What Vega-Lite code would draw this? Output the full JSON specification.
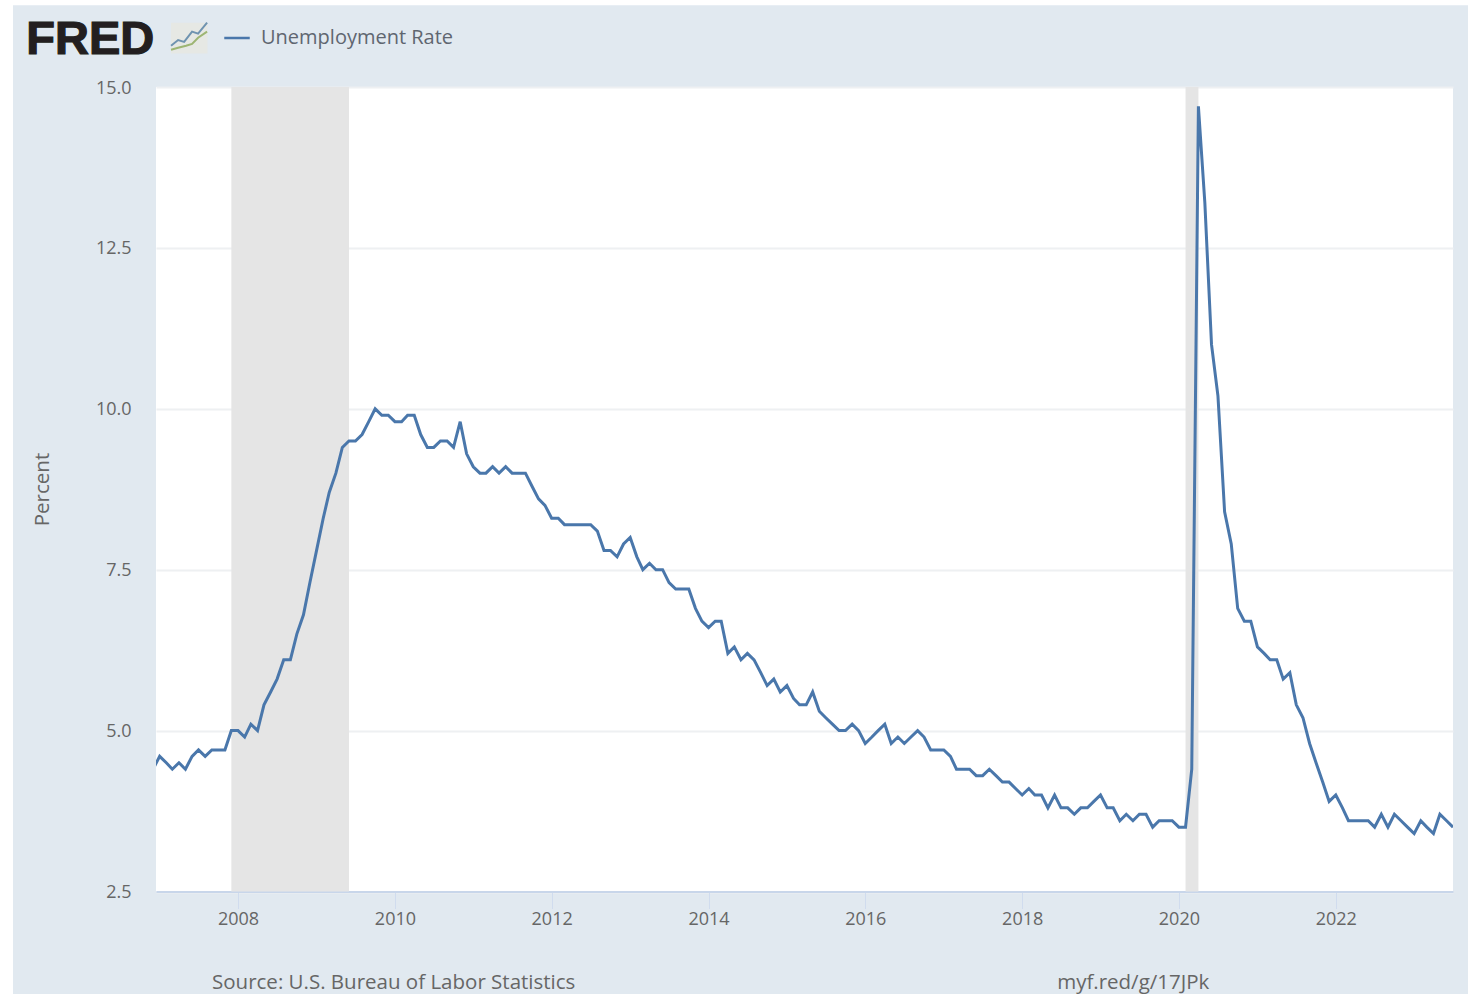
{"$schema":"https://vega.github.io/schema/vega-lite/v6.json","width":1297,"height":804.5,"autosize":{"type":"none"},"padding":{"left":156,"top":87,"right":15,"bottom":102.5},"background":"#e1e9f0","view":{"fill":"#ffffff","stroke":null},"config":{"font":"Open Sans"},"datasets":{"rate":[{"date":"2006-12-01","rate":4.4,"series":"Unemployment Rate"},{"date":"2007-01-01","rate":4.6,"series":"Unemployment Rate"},{"date":"2007-02-01","rate":4.5,"series":"Unemployment Rate"},{"date":"2007-03-01","rate":4.4,"series":"Unemployment Rate"},{"date":"2007-04-01","rate":4.5,"series":"Unemployment Rate"},{"date":"2007-05-01","rate":4.4,"series":"Unemployment Rate"},{"date":"2007-06-01","rate":4.6,"series":"Unemployment Rate"},{"date":"2007-07-01","rate":4.7,"series":"Unemployment Rate"},{"date":"2007-08-01","rate":4.6,"series":"Unemployment Rate"},{"date":"2007-09-01","rate":4.7,"series":"Unemployment Rate"},{"date":"2007-10-01","rate":4.7,"series":"Unemployment Rate"},{"date":"2007-11-01","rate":4.7,"series":"Unemployment Rate"},{"date":"2007-12-01","rate":5.0,"series":"Unemployment Rate"},{"date":"2008-01-01","rate":5.0,"series":"Unemployment Rate"},{"date":"2008-02-01","rate":4.9,"series":"Unemployment Rate"},{"date":"2008-03-01","rate":5.1,"series":"Unemployment Rate"},{"date":"2008-04-01","rate":5.0,"series":"Unemployment Rate"},{"date":"2008-05-01","rate":5.4,"series":"Unemployment Rate"},{"date":"2008-06-01","rate":5.6,"series":"Unemployment Rate"},{"date":"2008-07-01","rate":5.8,"series":"Unemployment Rate"},{"date":"2008-08-01","rate":6.1,"series":"Unemployment Rate"},{"date":"2008-09-01","rate":6.1,"series":"Unemployment Rate"},{"date":"2008-10-01","rate":6.5,"series":"Unemployment Rate"},{"date":"2008-11-01","rate":6.8,"series":"Unemployment Rate"},{"date":"2008-12-01","rate":7.3,"series":"Unemployment Rate"},{"date":"2009-01-01","rate":7.8,"series":"Unemployment Rate"},{"date":"2009-02-01","rate":8.3,"series":"Unemployment Rate"},{"date":"2009-03-01","rate":8.7,"series":"Unemployment Rate"},{"date":"2009-04-01","rate":9.0,"series":"Unemployment Rate"},{"date":"2009-05-01","rate":9.4,"series":"Unemployment Rate"},{"date":"2009-06-01","rate":9.5,"series":"Unemployment Rate"},{"date":"2009-07-01","rate":9.5,"series":"Unemployment Rate"},{"date":"2009-08-01","rate":9.6,"series":"Unemployment Rate"},{"date":"2009-09-01","rate":9.8,"series":"Unemployment Rate"},{"date":"2009-10-01","rate":10.0,"series":"Unemployment Rate"},{"date":"2009-11-01","rate":9.9,"series":"Unemployment Rate"},{"date":"2009-12-01","rate":9.9,"series":"Unemployment Rate"},{"date":"2010-01-01","rate":9.8,"series":"Unemployment Rate"},{"date":"2010-02-01","rate":9.8,"series":"Unemployment Rate"},{"date":"2010-03-01","rate":9.9,"series":"Unemployment Rate"},{"date":"2010-04-01","rate":9.9,"series":"Unemployment Rate"},{"date":"2010-05-01","rate":9.6,"series":"Unemployment Rate"},{"date":"2010-06-01","rate":9.4,"series":"Unemployment Rate"},{"date":"2010-07-01","rate":9.4,"series":"Unemployment Rate"},{"date":"2010-08-01","rate":9.5,"series":"Unemployment Rate"},{"date":"2010-09-01","rate":9.5,"series":"Unemployment Rate"},{"date":"2010-10-01","rate":9.4,"series":"Unemployment Rate"},{"date":"2010-11-01","rate":9.8,"series":"Unemployment Rate"},{"date":"2010-12-01","rate":9.3,"series":"Unemployment Rate"},{"date":"2011-01-01","rate":9.1,"series":"Unemployment Rate"},{"date":"2011-02-01","rate":9.0,"series":"Unemployment Rate"},{"date":"2011-03-01","rate":9.0,"series":"Unemployment Rate"},{"date":"2011-04-01","rate":9.1,"series":"Unemployment Rate"},{"date":"2011-05-01","rate":9.0,"series":"Unemployment Rate"},{"date":"2011-06-01","rate":9.1,"series":"Unemployment Rate"},{"date":"2011-07-01","rate":9.0,"series":"Unemployment Rate"},{"date":"2011-08-01","rate":9.0,"series":"Unemployment Rate"},{"date":"2011-09-01","rate":9.0,"series":"Unemployment Rate"},{"date":"2011-10-01","rate":8.8,"series":"Unemployment Rate"},{"date":"2011-11-01","rate":8.6,"series":"Unemployment Rate"},{"date":"2011-12-01","rate":8.5,"series":"Unemployment Rate"},{"date":"2012-01-01","rate":8.3,"series":"Unemployment Rate"},{"date":"2012-02-01","rate":8.3,"series":"Unemployment Rate"},{"date":"2012-03-01","rate":8.2,"series":"Unemployment Rate"},{"date":"2012-04-01","rate":8.2,"series":"Unemployment Rate"},{"date":"2012-05-01","rate":8.2,"series":"Unemployment Rate"},{"date":"2012-06-01","rate":8.2,"series":"Unemployment Rate"},{"date":"2012-07-01","rate":8.2,"series":"Unemployment Rate"},{"date":"2012-08-01","rate":8.1,"series":"Unemployment Rate"},{"date":"2012-09-01","rate":7.8,"series":"Unemployment Rate"},{"date":"2012-10-01","rate":7.8,"series":"Unemployment Rate"},{"date":"2012-11-01","rate":7.7,"series":"Unemployment Rate"},{"date":"2012-12-01","rate":7.9,"series":"Unemployment Rate"},{"date":"2013-01-01","rate":8.0,"series":"Unemployment Rate"},{"date":"2013-02-01","rate":7.7,"series":"Unemployment Rate"},{"date":"2013-03-01","rate":7.5,"series":"Unemployment Rate"},{"date":"2013-04-01","rate":7.6,"series":"Unemployment Rate"},{"date":"2013-05-01","rate":7.5,"series":"Unemployment Rate"},{"date":"2013-06-01","rate":7.5,"series":"Unemployment Rate"},{"date":"2013-07-01","rate":7.3,"series":"Unemployment Rate"},{"date":"2013-08-01","rate":7.2,"series":"Unemployment Rate"},{"date":"2013-09-01","rate":7.2,"series":"Unemployment Rate"},{"date":"2013-10-01","rate":7.2,"series":"Unemployment Rate"},{"date":"2013-11-01","rate":6.9,"series":"Unemployment Rate"},{"date":"2013-12-01","rate":6.7,"series":"Unemployment Rate"},{"date":"2014-01-01","rate":6.6,"series":"Unemployment Rate"},{"date":"2014-02-01","rate":6.7,"series":"Unemployment Rate"},{"date":"2014-03-01","rate":6.7,"series":"Unemployment Rate"},{"date":"2014-04-01","rate":6.2,"series":"Unemployment Rate"},{"date":"2014-05-01","rate":6.3,"series":"Unemployment Rate"},{"date":"2014-06-01","rate":6.1,"series":"Unemployment Rate"},{"date":"2014-07-01","rate":6.2,"series":"Unemployment Rate"},{"date":"2014-08-01","rate":6.1,"series":"Unemployment Rate"},{"date":"2014-09-01","rate":5.9,"series":"Unemployment Rate"},{"date":"2014-10-01","rate":5.7,"series":"Unemployment Rate"},{"date":"2014-11-01","rate":5.8,"series":"Unemployment Rate"},{"date":"2014-12-01","rate":5.6,"series":"Unemployment Rate"},{"date":"2015-01-01","rate":5.7,"series":"Unemployment Rate"},{"date":"2015-02-01","rate":5.5,"series":"Unemployment Rate"},{"date":"2015-03-01","rate":5.4,"series":"Unemployment Rate"},{"date":"2015-04-01","rate":5.4,"series":"Unemployment Rate"},{"date":"2015-05-01","rate":5.6,"series":"Unemployment Rate"},{"date":"2015-06-01","rate":5.3,"series":"Unemployment Rate"},{"date":"2015-07-01","rate":5.2,"series":"Unemployment Rate"},{"date":"2015-08-01","rate":5.1,"series":"Unemployment Rate"},{"date":"2015-09-01","rate":5.0,"series":"Unemployment Rate"},{"date":"2015-10-01","rate":5.0,"series":"Unemployment Rate"},{"date":"2015-11-01","rate":5.1,"series":"Unemployment Rate"},{"date":"2015-12-01","rate":5.0,"series":"Unemployment Rate"},{"date":"2016-01-01","rate":4.8,"series":"Unemployment Rate"},{"date":"2016-02-01","rate":4.9,"series":"Unemployment Rate"},{"date":"2016-03-01","rate":5.0,"series":"Unemployment Rate"},{"date":"2016-04-01","rate":5.1,"series":"Unemployment Rate"},{"date":"2016-05-01","rate":4.8,"series":"Unemployment Rate"},{"date":"2016-06-01","rate":4.9,"series":"Unemployment Rate"},{"date":"2016-07-01","rate":4.8,"series":"Unemployment Rate"},{"date":"2016-08-01","rate":4.9,"series":"Unemployment Rate"},{"date":"2016-09-01","rate":5.0,"series":"Unemployment Rate"},{"date":"2016-10-01","rate":4.9,"series":"Unemployment Rate"},{"date":"2016-11-01","rate":4.7,"series":"Unemployment Rate"},{"date":"2016-12-01","rate":4.7,"series":"Unemployment Rate"},{"date":"2017-01-01","rate":4.7,"series":"Unemployment Rate"},{"date":"2017-02-01","rate":4.6,"series":"Unemployment Rate"},{"date":"2017-03-01","rate":4.4,"series":"Unemployment Rate"},{"date":"2017-04-01","rate":4.4,"series":"Unemployment Rate"},{"date":"2017-05-01","rate":4.4,"series":"Unemployment Rate"},{"date":"2017-06-01","rate":4.3,"series":"Unemployment Rate"},{"date":"2017-07-01","rate":4.3,"series":"Unemployment Rate"},{"date":"2017-08-01","rate":4.4,"series":"Unemployment Rate"},{"date":"2017-09-01","rate":4.3,"series":"Unemployment Rate"},{"date":"2017-10-01","rate":4.2,"series":"Unemployment Rate"},{"date":"2017-11-01","rate":4.2,"series":"Unemployment Rate"},{"date":"2017-12-01","rate":4.1,"series":"Unemployment Rate"},{"date":"2018-01-01","rate":4.0,"series":"Unemployment Rate"},{"date":"2018-02-01","rate":4.1,"series":"Unemployment Rate"},{"date":"2018-03-01","rate":4.0,"series":"Unemployment Rate"},{"date":"2018-04-01","rate":4.0,"series":"Unemployment Rate"},{"date":"2018-05-01","rate":3.8,"series":"Unemployment Rate"},{"date":"2018-06-01","rate":4.0,"series":"Unemployment Rate"},{"date":"2018-07-01","rate":3.8,"series":"Unemployment Rate"},{"date":"2018-08-01","rate":3.8,"series":"Unemployment Rate"},{"date":"2018-09-01","rate":3.7,"series":"Unemployment Rate"},{"date":"2018-10-01","rate":3.8,"series":"Unemployment Rate"},{"date":"2018-11-01","rate":3.8,"series":"Unemployment Rate"},{"date":"2018-12-01","rate":3.9,"series":"Unemployment Rate"},{"date":"2019-01-01","rate":4.0,"series":"Unemployment Rate"},{"date":"2019-02-01","rate":3.8,"series":"Unemployment Rate"},{"date":"2019-03-01","rate":3.8,"series":"Unemployment Rate"},{"date":"2019-04-01","rate":3.6,"series":"Unemployment Rate"},{"date":"2019-05-01","rate":3.7,"series":"Unemployment Rate"},{"date":"2019-06-01","rate":3.6,"series":"Unemployment Rate"},{"date":"2019-07-01","rate":3.7,"series":"Unemployment Rate"},{"date":"2019-08-01","rate":3.7,"series":"Unemployment Rate"},{"date":"2019-09-01","rate":3.5,"series":"Unemployment Rate"},{"date":"2019-10-01","rate":3.6,"series":"Unemployment Rate"},{"date":"2019-11-01","rate":3.6,"series":"Unemployment Rate"},{"date":"2019-12-01","rate":3.6,"series":"Unemployment Rate"},{"date":"2020-01-01","rate":3.5,"series":"Unemployment Rate"},{"date":"2020-02-01","rate":3.5,"series":"Unemployment Rate"},{"date":"2020-03-01","rate":4.4,"series":"Unemployment Rate"},{"date":"2020-04-01","rate":14.7,"series":"Unemployment Rate"},{"date":"2020-05-01","rate":13.2,"series":"Unemployment Rate"},{"date":"2020-06-01","rate":11.0,"series":"Unemployment Rate"},{"date":"2020-07-01","rate":10.2,"series":"Unemployment Rate"},{"date":"2020-08-01","rate":8.4,"series":"Unemployment Rate"},{"date":"2020-09-01","rate":7.9,"series":"Unemployment Rate"},{"date":"2020-10-01","rate":6.9,"series":"Unemployment Rate"},{"date":"2020-11-01","rate":6.7,"series":"Unemployment Rate"},{"date":"2020-12-01","rate":6.7,"series":"Unemployment Rate"},{"date":"2021-01-01","rate":6.3,"series":"Unemployment Rate"},{"date":"2021-02-01","rate":6.2,"series":"Unemployment Rate"},{"date":"2021-03-01","rate":6.1,"series":"Unemployment Rate"},{"date":"2021-04-01","rate":6.1,"series":"Unemployment Rate"},{"date":"2021-05-01","rate":5.8,"series":"Unemployment Rate"},{"date":"2021-06-01","rate":5.9,"series":"Unemployment Rate"},{"date":"2021-07-01","rate":5.4,"series":"Unemployment Rate"},{"date":"2021-08-01","rate":5.2,"series":"Unemployment Rate"},{"date":"2021-09-01","rate":4.8,"series":"Unemployment Rate"},{"date":"2021-10-01","rate":4.5,"series":"Unemployment Rate"},{"date":"2021-11-01","rate":4.2,"series":"Unemployment Rate"},{"date":"2021-12-01","rate":3.9,"series":"Unemployment Rate"},{"date":"2022-01-01","rate":4.0,"series":"Unemployment Rate"},{"date":"2022-02-01","rate":3.8,"series":"Unemployment Rate"},{"date":"2022-03-01","rate":3.6,"series":"Unemployment Rate"},{"date":"2022-04-01","rate":3.6,"series":"Unemployment Rate"},{"date":"2022-05-01","rate":3.6,"series":"Unemployment Rate"},{"date":"2022-06-01","rate":3.6,"series":"Unemployment Rate"},{"date":"2022-07-01","rate":3.5,"series":"Unemployment Rate"},{"date":"2022-08-01","rate":3.7,"series":"Unemployment Rate"},{"date":"2022-09-01","rate":3.5,"series":"Unemployment Rate"},{"date":"2022-10-01","rate":3.7,"series":"Unemployment Rate"},{"date":"2022-11-01","rate":3.6,"series":"Unemployment Rate"},{"date":"2022-12-01","rate":3.5,"series":"Unemployment Rate"},{"date":"2023-01-01","rate":3.4,"series":"Unemployment Rate"},{"date":"2023-02-01","rate":3.6,"series":"Unemployment Rate"},{"date":"2023-03-01","rate":3.5,"series":"Unemployment Rate"},{"date":"2023-04-01","rate":3.4,"series":"Unemployment Rate"},{"date":"2023-05-01","rate":3.7,"series":"Unemployment Rate"},{"date":"2023-06-01","rate":3.6,"series":"Unemployment Rate"},{"date":"2023-07-01","rate":3.5,"series":"Unemployment Rate"}],"recessions":[{"start":"2007-12-01","end":"2009-06-01"},{"start":"2020-02-01","end":"2020-04-01"}],"margins":[{"x0":"2004-12-01","x1":"2005-02-17","y0":0.9,"y1":16.36},{"x0":"2004-12-01","x1":"2023-09-15","y0":16.27,"y1":16.36}],"logoBox":[{"x0":"2007-02-23","x1":"2007-08-12","y0":15.52,"y1":16.0}],"logoBlue":[{"date":"2007-02-23","v":15.64},{"date":"2007-03-28","v":15.73},{"date":"2007-04-25","v":15.7},{"date":"2007-06-01","v":15.86},{"date":"2007-06-29","v":15.83},{"date":"2007-08-10","v":16.0}],"logoGreen":[{"date":"2007-02-23","v":15.58},{"date":"2007-03-28","v":15.61},{"date":"2007-05-04","v":15.64},{"date":"2007-06-01","v":15.67},{"date":"2007-06-29","v":15.765},{"date":"2007-08-10","v":15.86}],"logoText":[{"date":"2005-04-20","v":15.51,"label":"FRED"}],"notes":[{"date":"2007-09-02","v":0.985,"label":"Source: U.S. Bureau of Labor Statistics"},{"date":"2018-06-13","v":0.985,"label":"myf.red/g/17JPk"}]},"layer":[{"data":{"name":"recessions"},"mark":{"type":"rect","color":"#e5e5e5"},"encoding":{"x":{"field":"start","type":"temporal","scale":{"domain":["2006-12-15","2023-07-01"]},"axis":{"title":null,"format":"%Y","tickCount":{"interval":"year","step":2},"grid":false,"labelFontSize":18,"labelColor":"#666666","labelFont":"Open Sans","labelPadding":2,"tickSize":17,"tickColor":"#d0dcee","domainColor":"#c8d6ea","domainWidth":2,"labelOverlap":false}},"x2":{"field":"end"},"y":{"datum":2.5,"type":"quantitative","scale":{"domain":[2.5,15],"nice":false,"zero":false},"axis":{"title":"Percent","titleFont":"Open Sans","titleFontWeight":"normal","titleFontSize":20.5,"titleColor":"#666666","titleX":-104,"titleY":402,"values":[2.5,5,7.5,10,12.5,15],"format":".1f","grid":true,"gridColor":"#eef0f2","gridWidth":2,"domain":false,"ticks":false,"labelFontSize":18,"labelColor":"#666666","labelFont":"Open Sans","labelPadding":25,"labelOffset":1}},"y2":{"datum":15}}},{"data":{"name":"margins"},"mark":{"type":"rect","color":"#ffffff","clip":false},"encoding":{"x":{"field":"x0","type":"temporal"},"x2":{"field":"x1"},"y":{"field":"y0","type":"quantitative"},"y2":{"field":"y1"}}},{"data":{"name":"rate"},"mark":{"type":"line","strokeWidth":3,"clip":true,"interpolate":"linear"},"encoding":{"x":{"field":"date","type":"temporal"},"y":{"field":"rate","type":"quantitative"},"color":{"field":"series","type":"nominal","scale":{"range":["#4a77ab"]},"legend":{"title":null,"orient":"none","legendX":67,"legendY":-63,"symbolType":"stroke","symbolSize":650,"symbolStrokeWidth":2.5,"labelFontSize":20,"labelColor":"#5f6670","labelFont":"Open Sans","labelOffset":10,"labelLimit":400,"padding":0}}}},{"data":{"name":"logoText"},"mark":{"type":"text","font":"Liberation Sans","fontWeight":"bold","fontSize":47,"align":"left","baseline":"alphabetic","color":"#231f20","stroke":"#231f20","strokeWidth":1.2},"encoding":{"x":{"field":"date","type":"temporal"},"y":{"field":"v","type":"quantitative"},"text":{"field":"label"}}},{"data":{"name":"logoBox"},"mark":{"type":"rect","color":"#e6e8e4"},"encoding":{"x":{"field":"x0","type":"temporal"},"x2":{"field":"x1"},"y":{"field":"y0","type":"quantitative"},"y2":{"field":"y1"}}},{"data":{"name":"logoBlue"},"mark":{"type":"line","color":"#6f93b0","strokeWidth":2},"encoding":{"x":{"field":"date","type":"temporal"},"y":{"field":"v","type":"quantitative"}}},{"data":{"name":"logoGreen"},"mark":{"type":"line","color":"#9db573","strokeWidth":2},"encoding":{"x":{"field":"date","type":"temporal"},"y":{"field":"v","type":"quantitative"}}},{"data":{"name":"notes"},"mark":{"type":"text","font":"Open Sans","fontSize":20.5,"align":"left","baseline":"alphabetic","color":"#666666"},"encoding":{"x":{"field":"date","type":"temporal"},"y":{"field":"v","type":"quantitative"},"text":{"field":"label"}}}]}
